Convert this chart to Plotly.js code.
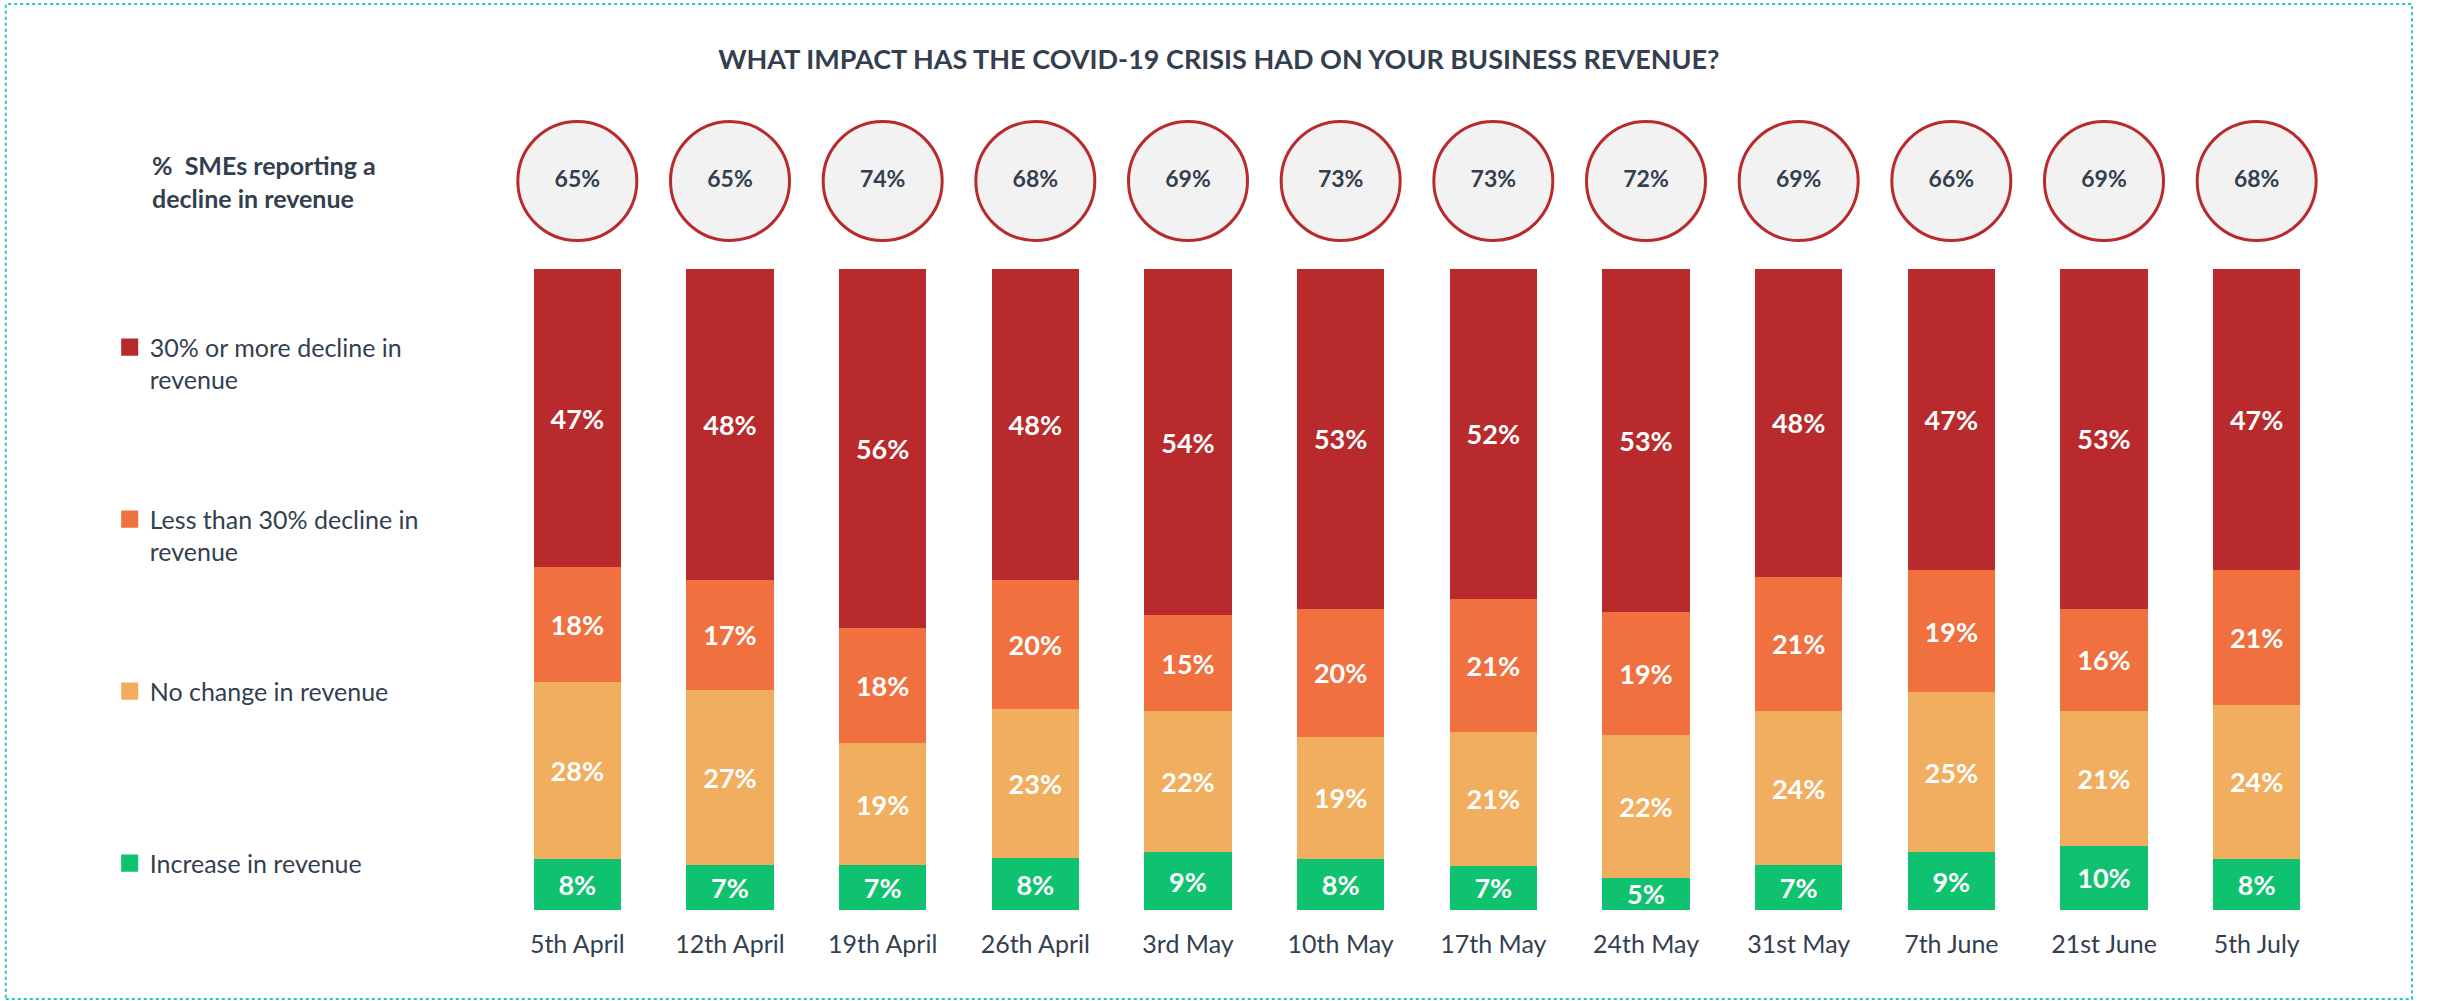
<!DOCTYPE html>
<html>
<head>
<meta charset="utf-8">
<script src="https://cdn.plot.ly/plotly-3.0.1.min.js"></script>
<style>
  html, body { margin: 0; padding: 0; background: #ffffff; }
  #chart { width: 2445px; height: 1001px; }
</style>
</head>
<body>
<div id="chart"></div>
<script>
// ---- data ----
const dates = ['5th April', '12th April', '19th April', '26th April', '3rd May', '10th May',
               '17th May', '24th May', '31st May', '7th June', '21st June', '5th July'];
const declineTotal = [65, 65, 74, 68, 69, 73, 73, 72, 69, 66, 69, 68];
const decline30Plus = [47, 48, 56, 48, 54, 53, 52, 53, 48, 47, 53, 47];
const declineUnder30 = [18, 17, 18, 20, 15, 20, 21, 19, 21, 19, 16, 21];
const noChange = [28, 27, 19, 23, 22, 19, 21, 22, 24, 25, 21, 24];
const increase = [8, 7, 7, 8, 9, 8, 7, 5, 7, 9, 10, 8];

const seriesNames = ['Increase in revenue', 'No change in revenue<br> ',
                     'Less than 30% decline in<br>revenue', '30% or more decline in<br>revenue'];
const seriesValues = [increase, noChange, declineUnder30, decline30Plus];
const seriesColors = ['#0ec270', '#f2ae5f', '#f0703f', '#b92a2c'];

const FONT = 'Lato, "Open Sans", sans-serif';
const TEXT_DARK = '#333f4f';

const traces = seriesValues.map((vals, i) => ({
  type: 'bar',
  x: dates,
  y: vals,
  name: seriesNames[i],
  legendgroup: 'g' + i,
  legendrank: seriesValues.length - i,
  marker: { color: seriesColors[i], line: { width: 0 } },
  text: vals.map(v => v + '%'),
  textposition: 'inside',
  insidetextanchor: 'middle',
  textangle: 0,
  constraintext: 'none',
  textfont: { family: FONT, size: 27, color: '#ffffff', weight: 'bold' },
  hoverinfo: 'skip',
  xaxis: 'x',
  yaxis: 'y'
}));

traces.push({
  type: 'scatter',
  mode: 'markers+text',
  x: dates,
  y: dates.map(() => 0.5),
  text: declineTotal.map(v => v + '%'),
  textposition: 'middle center',
  textfont: { family: FONT, size: 23, color: TEXT_DARK, weight: 'bold' },
  marker: { size: 119, color: '#f2f2f2', line: { color: '#b92a2c', width: 3 } },
  showlegend: false,
  hoverinfo: 'skip',
  cliponaxis: false,
  xaxis: 'x',
  yaxis: 'y2'
});

const layout = {
  width: 2445,
  height: 1001,
  margin: { l: 501, r: 112, t: 100, b: 91 },
  paper_bgcolor: '#ffffff',
  plot_bgcolor: 'rgba(0,0,0,0)',
  font: { family: FONT, color: TEXT_DARK },
  barmode: 'stack',
  barnorm: 'percent',
  bargap: 0.43,
  showlegend: true,
  title: {
    text: '<b>WHAT IMPACT HAS THE COVID-19 CRISIS HAD ON YOUR BUSINESS REVENUE?</b>',
    font: { family: FONT, size: 27, color: TEXT_DARK },
    xref: 'container', x: 0.4985, xanchor: 'center',
    yref: 'container', y: 0.941, yanchor: 'middle'
  },
  xaxis: {
    type: 'category',
    range: [-0.5, 11.5],
    showgrid: false, zeroline: false, showline: false,
    ticks: '', ticklabelstandoff: 17,
    tickfont: { family: FONT, size: 25, color: TEXT_DARK },
    fixedrange: true
  },
  yaxis: {
    domain: [0, 0.7914],
    range: [0, 100],
    showgrid: false, zeroline: false, showline: false, showticklabels: false,
    fixedrange: true
  },
  yaxis2: {
    domain: [0.85, 0.95],
    range: [0, 1],
    anchor: 'x',
    showgrid: false, zeroline: false, showline: false, showticklabels: false,
    fixedrange: true
  },
  legend: {
    x: -0.2136, xanchor: 'left',
    y: 0.723, yanchor: 'top',
    traceorder: 'grouped',
    tracegroupgap: 104,
    valign: 'top',
    bgcolor: 'rgba(0,0,0,0)',
    font: { family: FONT, size: 25, color: TEXT_DARK },
    itemclick: false, itemdoubleclick: false
  },
  annotations: [{
    xref: 'paper', yref: 'paper',
    x: -0.1918, xanchor: 'left',
    y: 0.9, yanchor: 'middle',
    align: 'left',
    showarrow: false,
    text: '<b>%  SMEs reporting a<br>decline in revenue</b>',
    font: { family: FONT, size: 25, color: TEXT_DARK }
  }],
  shapes: [{
    type: 'rect', xref: 'paper', yref: 'paper',
    x0: -0.2703, x1: 1.0431, y0: -0.1099, y1: 1.1185,
    line: { color: '#1ec8d8', width: 2, dash: 'dot' },
    fillcolor: 'rgba(0,0,0,0)', layer: 'below'
  }]
};

Plotly.newPlot('chart', traces, layout, { displayModeBar: false, staticPlot: true }).then(() => {
  // enlarge the legend colour squares to the reference's size, keeping their position
  document.querySelectorAll('#chart .legend .legendpoints path').forEach(p => {
    const t = p.getAttribute('transform') || '';
    p.setAttribute('transform', t + ' scale(1.42)');
  });
});
</script>
</body>
</html>
